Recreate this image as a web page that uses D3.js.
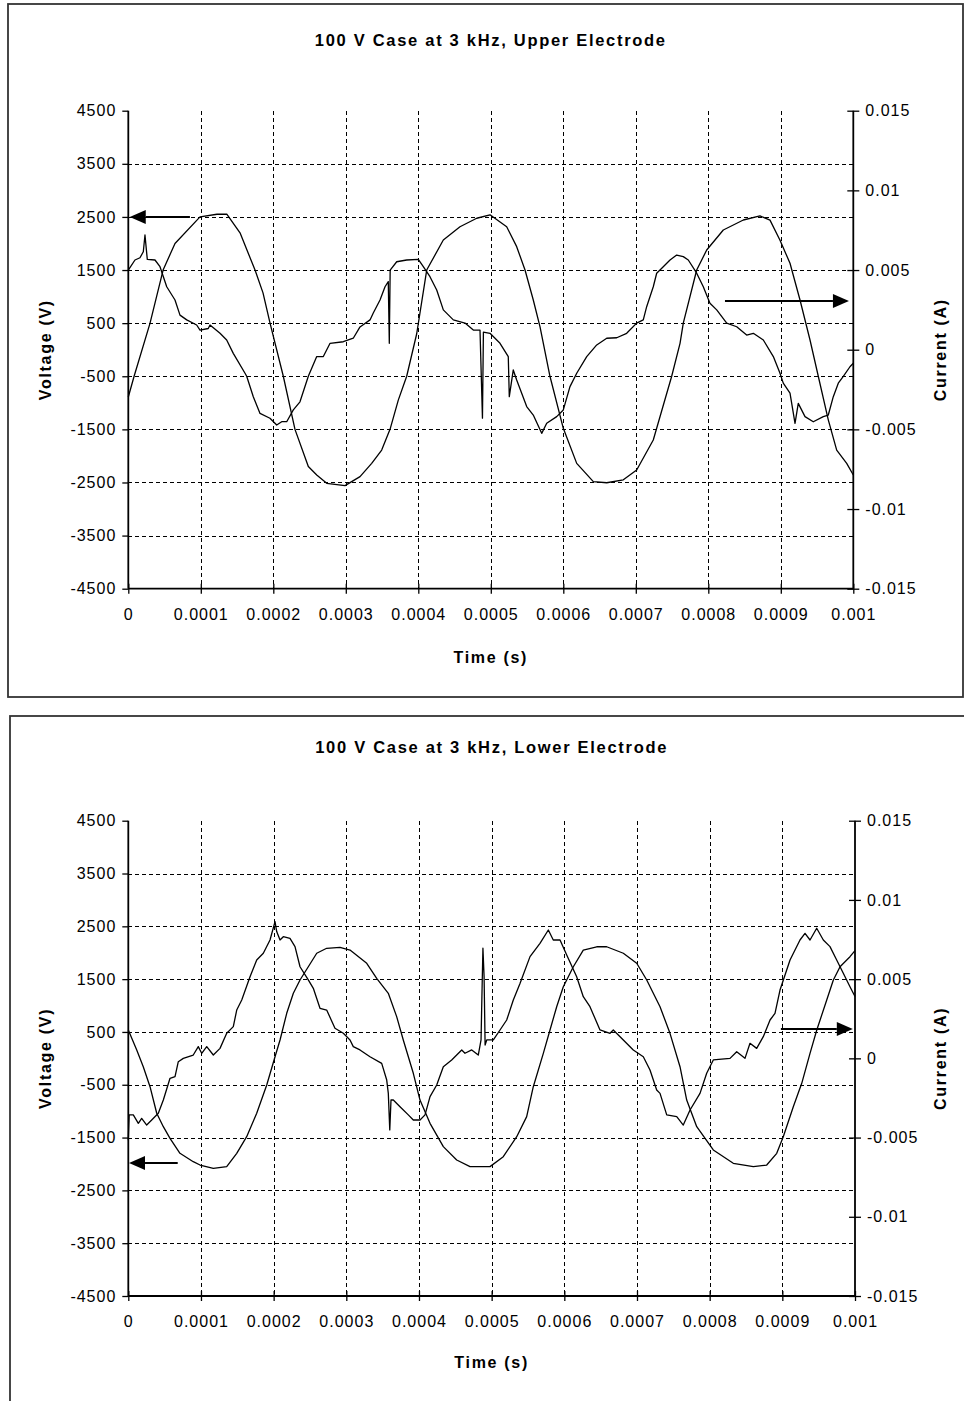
<!DOCTYPE html>
<html><head><meta charset="utf-8">
<script src="https://cdn.jsdelivr.net/npm/d3@7/dist/d3.min.js"></script>
<style>
body{margin:0;background:#fff}
svg{display:block}
text{font-family:"Liberation Sans",Arial,Helvetica,sans-serif;fill:#000}
</style>
</head><body>
<svg id="c" width="964" height="1401"></svg>
<script>
// ---------- axes / ticks ----------
const timeTicksUs = [0,100,200,300,400,500,600,700,800,900,1000];
const timeTickLabels = ["0","0.0001","0.0002","0.0003","0.0004","0.0005","0.0006","0.0007","0.0008","0.0009","0.001"];
const voltageTicks = [-4500,-3500,-2500,-1500,-500,500,1500,2500,3500,4500];
const voltageTickLabels = ["-4500","-3500","-2500","-1500","-500","500","1500","2500","3500","4500"];
const currentTicks = [-0.015,-0.01,-0.005,0,0.005,0.01,0.015];
const currentTickLabels = ["-0.015","-0.01","-0.005","0","0.005","0.01","0.015"];
const chartTitles = ["100 V Case at 3 kHz, Upper Electrode","100 V Case at 3 kHz, Lower Electrode"];

// ---------- upper electrode ----------
const upperVoltageTimeUs = [0,8,30,48,64.4,98.9,122.3,136.1,154.1,174.8,185.8,195.5,213.8,229.9,248.3,259.9,273.7,298.9,319.6,335.7,349.5,361,372.4,384,397.8,411.6,434.5,457.5,480.6,498.9,521.9,535.7,547.2,558.6,567.9,581.6,600,618.5,641.4,659.9,682.8,701.2,724.1,749.5,761,765.5,784,797.8,820.7,848.3,871.3,885.1,898.9,912.7,926.5,940.3,951.7,965.5,977.1,990.9,1000];
const upperVoltage = [-890,-500,500,1500,2000,2500,2550,2550,2200,1500,1070,500,-500,-1500,-2200,-2360,-2515,-2560,-2390,-2140,-1890,-1500,-950,-500,300,1500,2065,2315,2475,2540,2315,1940,1500,936,430,-500,-1480,-2140,-2485,-2505,-2450,-2265,-1700,-500,120,500,1500,1877,2254,2442,2518,2440,2060,1627,935,183,-500,-1320,-1890,-2140,-2360];

const upperCurrentTimeUs = [0,9.2,16.1,20.7,23,26.2,36.8,43.7,53,64.4,71.3,80.6,94.3,98.9,110.3,112.7,126.5,135.7,144.8,161,163.3,172.4,181.7,195.4,204.7,211.6,218.5,227.6,236.8,248.3,259.9,269,278.3,296.6,310.3,319.6,333.4,337.9,347.2,354.1,358.6,360,361.2,370.2,384,400,406.9,416.1,425.4,434.5,448.3,464.4,475.9,485.1,488.5,489.8,498.9,512.7,524.1,525.5,531,535.7,549.5,558.6,570.2,577.1,590.9,600,609.2,618.5,632.3,646.1,659.9,673.7,687.4,701.2,710.3,715,724.1,728.8,737.9,747.2,756.4,765.5,772.4,784,793.1,802.3,811.6,825.4,839.2,852.9,862.1,875.9,889.7,898.9,903.4,912.7,919.6,924.1,933.4,944.8,958.6,965.5,972.4,979.3,986.2,995.4,1000];
const upperCurrent = [0.005,0.00563,0.00577,0.00615,0.0072,0.00567,0.00563,0.00521,0.00395,0.00312,0.00217,0.00187,0.00155,0.00123,0.00133,0.00155,0.00103,0.00061,-0.00023,-0.00148,-0.00167,-0.00295,-0.004,-0.0043,-0.00473,-0.00452,-0.00452,-0.00378,-0.00327,-0.00167,-0.00043,-0.00043,0.0004,0.0005,0.00072,0.00143,0.00187,0.0023,0.00312,0.00395,0.00427,0.0004,0.005,0.00552,0.00563,0.00567,0.00521,0.00458,0.00375,0.0025,0.00187,0.00167,0.00123,0.00123,-0.0043,0.0011,0.00103,0.0004,-0.00043,-0.00295,-0.00127,-0.0019,-0.00357,-0.0041,-0.00525,-0.00462,-0.0042,-0.00378,-0.00232,-0.00148,-0.00043,0.0003,0.00072,0.00075,0.00103,0.00167,0.00187,0.0027,0.00395,0.0048,0.00521,0.00563,0.00594,0.00584,0.00563,0.0048,0.00395,0.00291,0.0025,0.00167,0.00144,0.00092,0.00103,0.00061,-0.00043,-0.00148,-0.0021,-0.00273,-0.00462,-0.00337,-0.0042,-0.00452,-0.0042,-0.0041,-0.00295,-0.0021,-0.00167,-0.00107,-0.00085];

// ---------- lower electrode ----------
const lowerVoltageTimeUs = [0,11.6,20.6,29.9,39.1,48.2,57.4,71.1,89.4,98.7,117,135.4,149.2,162.9,176.7,190.5,201.9,208.8,218,227.1,236.3,247.7,259.3,273,291.3,305.1,328.1,341.8,357.8,369.3,378.4,392.2,401.4,415.2,433.5,451.9,470.2,497.7,516,534.5,548.2,557.3,571.1,580.3,589.5,598.6,612.4,626.1,644.6,658.3,681.2,699.6,713.4,731.7,745.4,759.2,768.4,782.2,805,832.5,860.1,878.5,892.3,901.3,915.1,926.7,938.1,947.4,961.1,970.2,979.4,993.1,1000];
const lowerVoltage = [537,158,-158,-537,-1040,-1294,-1514,-1798,-1957,-2020,-2082,-2050,-1798,-1483,-1040,-505,31,348,853,1232,1484,1735,1990,2084,2100,2050,1800,1516,1232,790,348,-283,-790,-1230,-1672,-1925,-2050,-2050,-1862,-1483,-1104,-537,95,537,978,1357,1735,2050,2113,2113,1990,1800,1484,978,474,-158,-790,-1294,-1735,-1987,-2050,-2020,-1798,-1483,-915,-473,95,537,1105,1484,1735,1925,2040];

const lowerCurrentTimeUs = [0,1.2,2.3,6.9,13.8,18.4,25.3,32.2,41.3,48.2,57.4,64.3,68.8,75.7,89.4,96.3,101,107.9,117,126.2,135.4,144.5,149.2,156.1,167.5,176.7,185.8,195,201.9,204.2,208.8,213.3,222.5,229.4,236.3,247.7,254.6,263.8,273,284.4,295.9,305.1,309.6,318.8,332.6,348.7,355.6,357.8,359.8,361.5,364.7,373.9,385.3,392.2,401.4,408.3,415.2,424.4,433.5,445,458.8,463.3,472.6,481.6,485.4,486.6,488,489.6,491,493.2,502.3,511.5,520.7,529.8,539,552.8,566.5,578,584.8,594.1,603.3,617,626.1,635.3,649.1,662.9,667.4,681.2,694.9,708.7,717.9,727.1,731.7,740.9,754.7,763.7,773,786.7,795.9,805,828,837.2,848.6,855.5,864.7,873.8,883.1,889.9,896.8,910.6,924.3,931.2,938.1,947.3,956.4,965.6,974.8,983.9,993.1,1000];
const lowerCurrent = [-0.00517,-0.00357,-0.00357,-0.00357,-0.0041,-0.00379,-0.00421,-0.00389,-0.00347,-0.00263,-0.00126,-0.00116,-0.00021,0,0.00021,0.00074,0.00032,0.00074,0.00021,0.00063,0.00158,0.002,0.00305,0.00368,0.00515,0.00621,0.00663,0.00747,0.00863,0.008,0.00747,0.00768,0.00757,0.00705,0.00578,0.00495,0.00442,0.00316,0.00305,0.0019,0.00158,0.00116,0.00074,0.00053,0.0001,-0.00032,-0.00137,-0.00221,-0.00452,-0.00263,-0.00263,-0.00305,-0.00357,-0.00389,-0.00389,-0.00357,-0.00242,-0.00168,-0.00053,-0.0001,0.00053,0.00032,0.00053,0.00021,0.00116,0.0039,0.00695,0.00515,0.00084,0.00116,0.00116,0.00179,0.00242,0.00368,0.00473,0.00642,0.00726,0.0081,0.00747,0.00747,0.00652,0.00515,0.00389,0.00326,0.00179,0.00158,0.00179,0.00116,0.00053,0.0001,-0.00074,-0.002,-0.00221,-0.00357,-0.00368,-0.00421,-0.00326,-0.00221,-0.00094,-0.0001,0,0.00042,0,0.00095,0.00063,0.00137,0.00242,0.00284,0.00431,0.00621,0.00747,0.00789,0.00747,0.00821,0.00747,0.00705,0.00621,0.00537,0.00452,0.0039];

const svg = d3.select("#c");
const snap = v => Math.round(v) + 0.5;

function drawChart(cfg) {
  const g = svg.append("g");
  // outer frame
  g.append("rect").attr("x", cfg.frame[0]).attr("y", cfg.frame[1])
    .attr("width", cfg.frame[2]).attr("height", cfg.frame[3])
    .attr("fill", "none").attr("stroke", "#333").attr("stroke-width", 1.8);

  const x = d3.scaleLinear().domain([0, 1000]).range([cfg.left, cfg.right]);
  const yV = d3.scaleLinear().domain([-4500, 4500]).range([cfg.bottom, cfg.top]);
  const yI = d3.scaleLinear().domain([-0.015, 0.015]).range([cfg.bottom, cfg.top]);

  // title
  g.append("text").attr("x", (cfg.left + cfg.right) / 2).attr("y", cfg.titleY)
    .attr("text-anchor", "middle").attr("dominant-baseline", "central")
    .style("font-size", "16.5px").style("font-weight", "bold").style("letter-spacing", "1.7px")
    .text(cfg.title);

  // grid
  const grid = g.append("g").attr("stroke", "#000").attr("stroke-width", 1)
    .attr("stroke-dasharray", "4,3").attr("shape-rendering", "crispEdges");
  grid.selectAll("line.h").data(voltageTicks.slice(1, -1)).join("line").attr("class", "h")
    .attr("x1", cfg.left).attr("x2", cfg.right).attr("y1", d => snap(yV(d))).attr("y2", d => snap(yV(d)));
  grid.selectAll("line.v").data(timeTicksUs.slice(1, -1)).join("line").attr("class", "v")
    .attr("y1", cfg.top).attr("y2", cfg.bottom).attr("x1", d => snap(x(d))).attr("x2", d => snap(x(d)));

  // left axis
  const axL = d3.axisLeft(yV).tickValues(voltageTicks).tickSize(6).tickPadding(6)
    .tickFormat((d, i) => voltageTickLabels[i]);
  const gL = g.append("g").attr("transform", `translate(${cfg.left},0)`).call(axL);
  // right axis
  const axR = d3.axisRight(yI).tickValues(currentTicks).tickSize(6).tickPadding(6)
    .tickFormat((d, i) => currentTickLabels[i]);
  const gR = g.append("g").attr("transform", `translate(${cfg.right},0)`).call(axR);
  gR.selectAll(".tick line").attr("x1", -6);
  // bottom axis
  const axB = d3.axisBottom(x).tickValues(timeTicksUs).tickSize(5).tickPadding(15)
    .tickFormat((d, i) => timeTickLabels[i]);
  const gB = g.append("g").attr("transform", `translate(0,${cfg.bottom})`).call(axB);
  gB.selectAll(".tick line").attr("y1", -5);

  [gL, gR, gB].forEach(a => {
    a.select(".domain").attr("stroke", "#000").attr("stroke-width", 1.8);
    a.selectAll(".tick line").attr("stroke", "#000").attr("stroke-width", 1.3);
    a.selectAll("text").style("font-size", "16px").style("letter-spacing", "1px")
      .style("font-family", '"Liberation Sans",Arial,sans-serif').attr("fill", "#000");
  });
  gL.select(".domain").attr("d", `M0,${cfg.top}V${cfg.bottom}`);
  gR.select(".domain").attr("d", `M0,${cfg.top}V${cfg.bottom}`);
  gB.select(".domain").attr("d", `M${cfg.left},0H${cfg.right}`);

  // axis titles
  const boldStyle = t => t.style("font-size", "16px").style("font-weight", "bold").style("letter-spacing", "1.7px")
    .attr("text-anchor", "middle").attr("dominant-baseline", "central");
  g.append("text").attr("x", (cfg.left + cfg.right) / 2).attr("y", cfg.xTitleY).call(boldStyle).text("Time (s)");
  const midY = (cfg.top + cfg.bottom) / 2;
  g.append("text").attr("transform", `translate(45,${midY}) rotate(-90)`).call(boldStyle).text("Voltage (V)");
  g.append("text").attr("transform", `translate(940,${midY}) rotate(-90)`).call(boldStyle).text("Current (A)");

  // series
  const lineV = d3.line().x(d => x(d[0])).y(d => yV(d[1]));
  const lineI = d3.line().x(d => x(d[0])).y(d => yI(d[1]));
  g.append("path").datum(d3.zip(cfg.vt, cfg.v)).attr("d", lineV)
    .attr("fill", "none").attr("stroke", "#000").attr("stroke-width", 1.3).attr("stroke-linejoin", "round");
  g.append("path").datum(d3.zip(cfg.it, cfg.i)).attr("d", lineI)
    .attr("fill", "none").attr("stroke", "#000").attr("stroke-width", 1.3).attr("stroke-linejoin", "round");

  // arrows
  function arrow(x1, y1, x2, y2) {
    const dir = Math.sign(x2 - x1);
    const headLen = 16, headHalf = 7;
    g.append("line").attr("x1", x1).attr("y1", y1).attr("x2", x2 - dir * headLen).attr("y2", y2)
      .attr("stroke", "#000").attr("stroke-width", 2);
    g.append("path").attr("d", `M${x2},${y2}L${x2 - dir * headLen},${y2 - headHalf}L${x2 - dir * headLen},${y2 + headHalf}Z`)
      .attr("fill", "#000");
  }
  arrow(x(cfg.arrowV[0]), yV(cfg.arrowV[2]), x(cfg.arrowV[1]), yV(cfg.arrowV[2]));
  arrow(x(cfg.arrowI[0]), yI(cfg.arrowI[2]), x(cfg.arrowI[1]), yI(cfg.arrowI[2]));
}

drawChart({
  frame: [8, 4, 955, 693], left: 128.3, right: 853.3, top: 110.7, bottom: 588.7,
  titleY: 40, xTitleY: 657, title: chartTitles[0],
  vt: upperVoltageTimeUs, v: upperVoltage, it: upperCurrentTimeUs, i: upperCurrent,
  arrowV: [85, 2, 2500], arrowI: [823, 994, 0.00306]
});
drawChart({
  frame: [10, 716, 980, 720], left: 128.3, right: 855, top: 820.7, bottom: 1296,
  titleY: 747, xTitleY: 1362, title: chartTitles[1],
  vt: lowerVoltageTimeUs, v: lowerVoltage, it: lowerCurrentTimeUs, i: lowerCurrent,
  arrowV: [68, 1, -1980], arrowI: [898, 997, 0.00185]
});
</script>
</body></html>
